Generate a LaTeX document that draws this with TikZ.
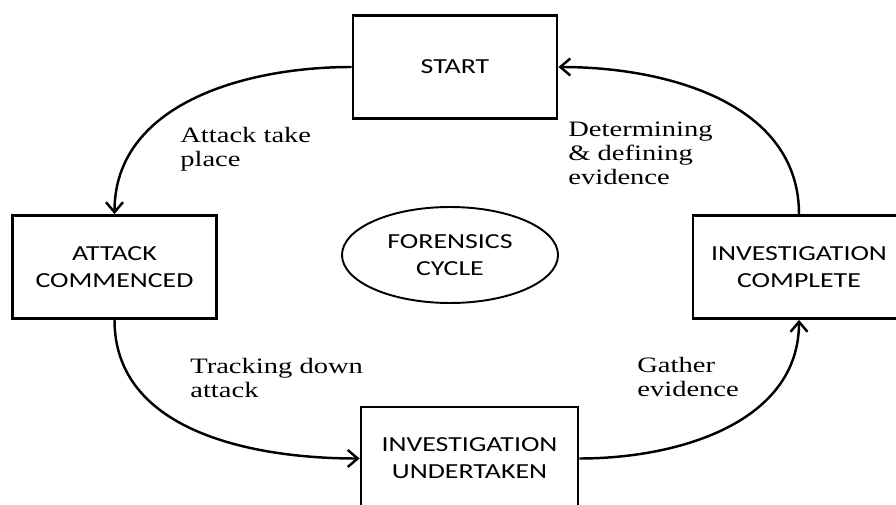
\documentclass[tikz,border=0pt]{standalone}
\usepackage{fontspec}
\setmainfont{Liberation Serif}[FakeStretch=1.3]
\newfontfamily\boxfont{Carlito}[FakeStretch=1.3]
\usetikzlibrary{positioning,shapes.geometric,arrows.meta}

\begin{document}
\begin{tikzpicture}[node distance=4cm,
  block/.style={draw, line width=1.6pt, minimum width=4.08cm, minimum height=2.06cm, align=center, font=\boxfont\fontsize{12.2}{15.4}\selectfont},
  cyclebox/.style={draw, ellipse, line width=1.1pt, minimum width=4.32cm, minimum height=1.92cm, inner sep=0pt, align=center, font=\boxfont\fontsize{12.2}{15}\selectfont},
  flow/.style={line width=1.4pt, -{Straight Barb[length=2mm,width=3.4mm]}},
  lbl/.style={anchor=north west, inner sep=0pt, align=left, font=\fontsize{12.5}{13.6}\selectfont}]

  \clip (0,0) rectangle (17.92,10.10);

  % Boxes
  \node[block] (start) at (9.10,8.76) {START};
  \node[block, below of=start, xshift=-6.81cm] (attack) {ATTACK\\COMMENCED};
  \node[block, below of=start, xshift=6.88cm, minimum width=4.24cm] (complete) {INVESTIGATION\\COMPLETE};
  \node[block, below of=start, xshift=0.29cm, yshift=-3.83cm, minimum width=4.34cm] (undertaken) {INVESTIGATION\\UNDERTAKEN};

  % centre
  \node[cyclebox, below of=start, xshift=-0.1cm, yshift=0.24cm] (cycle) {FORENSICS\\CYCLE};

  % Arrows
  \draw[flow] (start.west) to[out=180, in=90] (attack.north);
  \draw[flow] (attack.south) to[out=-90, in=180] (undertaken.west);
  \draw[flow] (undertaken.east) to[out=0, in=-90] (complete.south);
  \draw[flow] (complete.north) to[out=90, in=0] (start.east);

  % Labels
  \node[lbl] (takeLbl) at (3.60,7.56) {Attack take\\place};
  \node[lbl] (defineLbl) at (11.36,7.66) {Determining\\\& defining\\evidence};
  \node[lbl] (trackLbl) at (3.80,2.94) {Tracking down\\attack};
  \node[lbl] (gatherLbl) at (12.74,2.96) {Gather\\evidence};

\end{tikzpicture}
\end{document}
